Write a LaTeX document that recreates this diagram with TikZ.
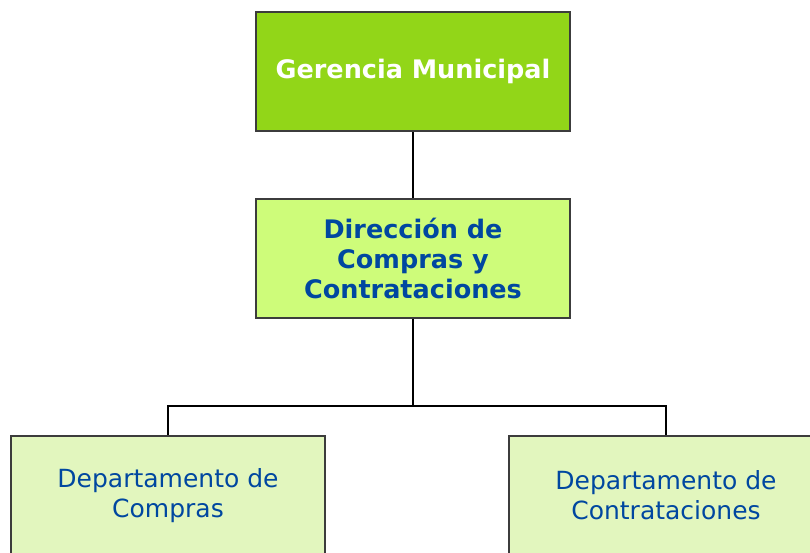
\documentclass[tikz,border=0pt]{standalone}
\usepackage{fontspec}
\setmainfont{DejaVu Sans}

\definecolor{gerenciagreen}{RGB}{146,214,24}
\definecolor{direcciongreen}{RGB}{206,252,122}
\definecolor{deptogreen}{RGB}{226,246,190}
\definecolor{orgblue}{RGB}{0,71,160}
\definecolor{orgborder}{RGB}{60,60,60}

\tikzset{
  orgbox/.style={draw=orgborder, line width=2pt, minimum width=314pt,
    minimum height=119pt, inner sep=0pt, align=center,
    font=\fontsize{25}{30}\selectfont},
  topbox/.style={orgbox, fill=gerenciagreen, text=white, font=\fontsize{25.5}{30}\selectfont\bfseries},
  midbox/.style={orgbox, fill=direcciongreen, text=orgblue, font=\fontsize{25.5}{30}\selectfont\bfseries},
  deptbox/.style={orgbox, fill=deptogreen, text=orgblue}
}

\begin{document}
\begin{tikzpicture}[x=1pt, y=1pt, line width=2pt,
    level 1/.style={level distance=187pt},
    level 2/.style={level distance=237pt, sibling distance=498pt,
      edge from parent path={(\tikzparentnode.south) -- ++(0,-87pt) -| (\tikzchildnode.north)}}]
    \useasboundingbox (0,0) rectangle (810,553);
    \clip (0,0) rectangle (810,553);
    \node[topbox] (gerencia) at (413,481.5) {Gerencia Municipal}
	child { node[midbox] (direccion) {Dirección de\\Compras y\\Contrataciones}
		child[xshift=4pt] {node[deptbox] (compras) {Departamento de\\Compras}}
		child[xshift=4pt] {node[deptbox] (contrataciones) {Departamento de\\Contrataciones}}
      }
    ;
\end{tikzpicture}
\end{document}
